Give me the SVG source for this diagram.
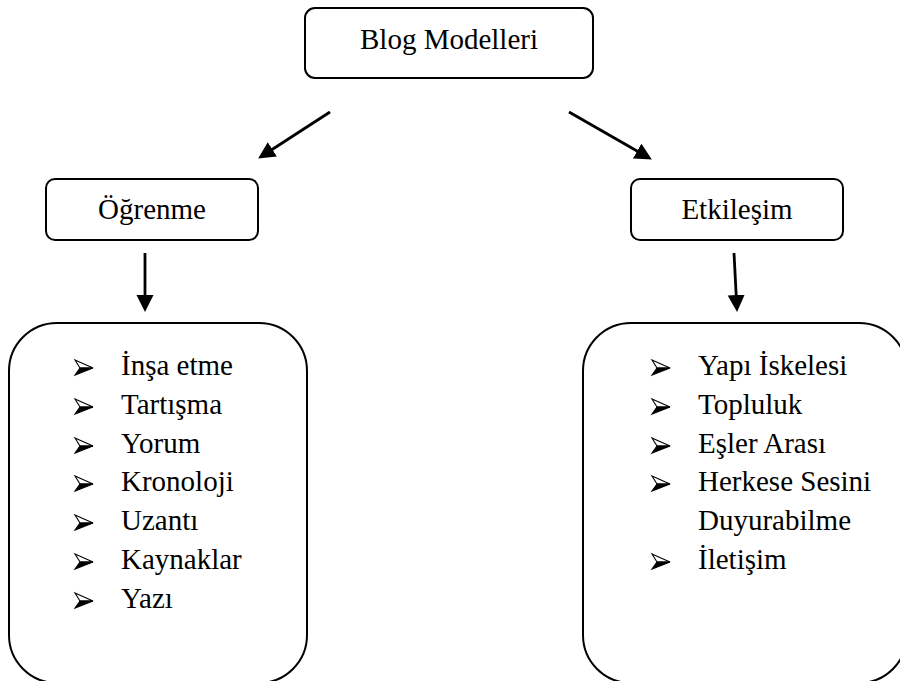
<svg xmlns="http://www.w3.org/2000/svg" width="900" height="681" viewBox="0 0 900 681">
  <style>
    .box { fill: #ffffff; stroke: #000000; stroke-width: 2; }
    text { font-family: 'Liberation Serif', 'Times New Roman', serif; font-size: 29px; fill: #000000; }
    .conn { stroke: #000000; stroke-width: 2.8; fill: none; marker-end: url(#arrow); }
  </style>
  <defs>
    <marker id="arrow" markerUnits="userSpaceOnUse" markerWidth="18" markerHeight="18" refX="10" refY="8.5" orient="auto">
      <path d="M0,0 L17,8.5 L0,17 Z" fill="#000000"/>
    </marker>
    <g id="bullet">
      <path d="M0,0 L18,8 L5,8 Z" fill="#ffffff" stroke="#000000" stroke-width="1.1" stroke-linejoin="miter"/>
      <path d="M5,8 L18,8 L0,15 Z" fill="#000000" stroke="#000000" stroke-width="1.1"/>
    </g>
  </defs>

  <g id="connectors">
    <line class="conn" x1="330" y1="112" x2="264" y2="154.7"/>
    <line class="conn" x1="569" y1="112" x2="645.8" y2="156"/>
    <line class="conn" x1="145" y1="253" x2="145" y2="305"/>
    <line class="conn" x1="734" y1="253" x2="736.7" y2="305"/>
  </g>

  <g id="node-blog-modelleri">
    <rect class="box" x="305" y="8" width="288" height="70" rx="10" ry="10"/>
    <text x="449" y="49" text-anchor="middle">Blog Modelleri</text>
  </g>

  <g id="node-ogrenme">
    <rect class="box" x="46" y="179" width="212" height="61" rx="9" ry="9"/>
    <text x="152" y="219" text-anchor="middle">Öğrenme</text>
  </g>

  <g id="node-etkilesim">
    <rect class="box" x="631" y="179" width="212" height="61" rx="9" ry="9"/>
    <text x="737" y="219" text-anchor="middle">Etkileşim</text>
  </g>

  <g id="node-ogrenme-list">
    <rect class="box" x="9" y="323" width="298" height="360" rx="48" ry="48"/>
    <use href="#bullet" x="75" y="360"/>
    <text x="121" y="375">İnşa etme</text>
    <use href="#bullet" x="75" y="399"/>
    <text x="121" y="414">Tartışma</text>
    <use href="#bullet" x="75" y="438"/>
    <text x="121" y="453">Yorum</text>
    <use href="#bullet" x="75" y="476"/>
    <text x="121" y="491">Kronoloji</text>
    <use href="#bullet" x="75" y="515"/>
    <text x="121" y="530">Uzantı</text>
    <use href="#bullet" x="75" y="554"/>
    <text x="121" y="569">Kaynaklar</text>
    <use href="#bullet" x="75" y="593"/>
    <text x="121" y="608">Yazı</text>
  </g>

  <g id="node-etkilesim-list">
    <rect class="box" x="583" y="323" width="324" height="360" rx="48" ry="48"/>
    <use href="#bullet" x="652" y="360"/>
    <text x="698" y="375">Yapı İskelesi</text>
    <use href="#bullet" x="652" y="399"/>
    <text x="698" y="414">Topluluk</text>
    <use href="#bullet" x="652" y="438"/>
    <text x="698" y="453">Eşler Arası</text>
    <use href="#bullet" x="652" y="476"/>
    <text x="698" y="491">Herkese Sesini</text>
    <text x="698" y="530">Duyurabilme</text>
    <use href="#bullet" x="652" y="554"/>
    <text x="698" y="569">İletişim</text>
  </g>
</svg>
